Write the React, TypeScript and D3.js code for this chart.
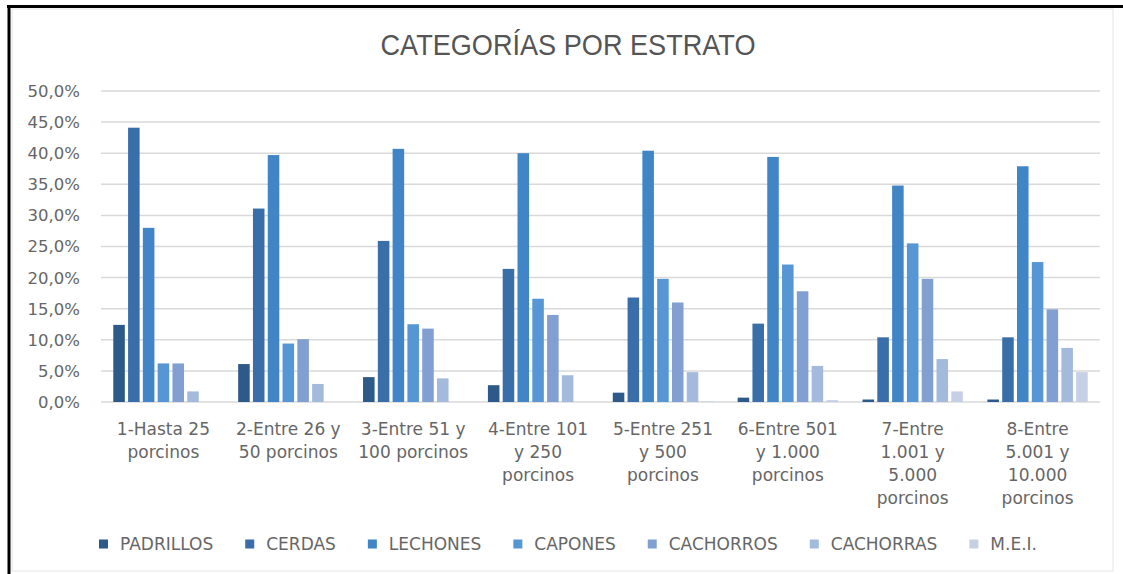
import { useMemo } from "react"
import * as d3 from "d3"

const CATEGORIES = [
  "1-Hasta 25\nporcinos",
  "2-Entre 26 y\n50 porcinos",
  "3-Entre 51 y\n100 porcinos",
  "4-Entre 101\ny 250\nporcinos",
  "5-Entre 251\ny 500\nporcinos",
  "6-Entre 501\ny 1.000\nporcinos",
  "7-Entre\n1.001 y\n5.000\nporcinos",
  "8-Entre\n5.001 y\n10.000\nporcinos",
]

const SERIES = ["PADRILLOS", "CERDAS", "LECHONES", "CAPONES", "CACHORROS", "CACHORRAS", "M.E.I."]

// percentage per estrato, one array per series
const PADRILLOS = [12.4, 6.1, 4.0, 2.7, 1.5, 0.7, 0.4, 0.4]
const CERDAS    = [44.1, 31.1, 25.9, 21.4, 16.8, 12.6, 10.4, 10.4]
const LECHONES  = [28.0, 39.7, 40.7, 40.0, 40.4, 39.4, 34.8, 37.9]
const CAPONES   = [6.2, 9.4, 12.5, 16.6, 19.8, 22.1, 25.5, 22.5]
const CACHORROS = [6.2, 10.1, 11.8, 14.0, 16.0, 17.8, 19.8, 14.9]
const CACHORRAS = [1.7, 2.9, 3.8, 4.3, 4.8, 5.8, 6.9, 8.7]
const MEI       = [0.0, 0.0, 0.0, 0.0, 0.1, 0.3, 1.7, 4.8]

const VALUES = [PADRILLOS, CERDAS, LECHONES, CAPONES, CACHORROS, CACHORRAS, MEI]

const Y_TICKS = [0, 5, 10, 15, 20, 25, 30, 35, 40, 45, 50]

const COLORS = ["#2d5a89", "#3a6ea9", "#4185c7", "#5696d4", "#819fd0", "#a3badc", "#c5d0e6"]

const W = 1123
const H = 574
const PLOT_L = 101
const PLOT_R = 1100
const PLOT_T = 91
const PLOT_B = 402
const CENTER_X = 568

const LABEL_FONT = "'DejaVu Sans', Verdana, sans-serif"
const TEXT_GRAY = "#666666"

const esFormat = d3.formatLocale({
  decimal: ",",
  thousands: ".",
  grouping: [3],
  currency: ["", "€"],
}).format(".1f")

function measure(text: string, font: string) {
  const ctx = document.createElement("canvas").getContext("2d")
  if (!ctx) return text.length * 9
  ctx.font = font
  return ctx.measureText(text).width
}

export default function App() {
  const x0 = d3.scaleBand().domain(CATEGORIES).range([PLOT_L, PLOT_R])
  const x1 = d3
    .scaleBand()
    .domain(SERIES)
    .range([0, x0.bandwidth()])
    .paddingInner(0.22)
    .paddingOuter(0.83)
  const y = d3.scaleLinear().domain([0, 50]).range([PLOT_B, PLOT_T])

  // legend layout: marker, text, gap
  const legend = useMemo(() => {
    const widths = SERIES.map((s) => measure(s, `17px ${LABEL_FONT}`))
    const items: { name: string; x: number; color: string }[] = []
    let cur = 0
    SERIES.forEach((s, i) => {
      items.push({ name: s, x: cur, color: COLORS[i] })
      cur += 21 + widths[i] + 32
    })
    const total = cur - 32
    const start = CENTER_X - total / 2
    return items.map((it) => ({ ...it, x: it.x + start }))
  }, [])

  return (
    <svg
      width={W}
      height={H}
      style={{ position: "absolute", left: 0, top: 0, background: "#ffffff" }}
    >
      {/* chart area frame */}
      <rect x={12} y={9} width={1101} height={562} fill="none" stroke="#e4e4e4" strokeWidth={1} />
      <line x1={7} x2={W} y1={6.5} y2={6.5} stroke="#000" strokeWidth={3} />
      <line x1={9} x2={9} y1={5} y2={H} stroke="#000" strokeWidth={3} />

      <text
        x={CENTER_X}
        y={55}
        textAnchor="middle"
        fontFamily="'Liberation Sans Narrow', 'Liberation Sans', Arial, sans-serif"
        fontSize={30}
        fill="#555555"
        textLength={375}
        lengthAdjust="spacingAndGlyphs"
      >
        CATEGORÍAS POR ESTRATO
      </text>

      {/* grid + y labels */}
      {Y_TICKS.map((t) => (
        <g key={t}>
          <line
            x1={PLOT_L}
            x2={PLOT_R}
            y1={y(t)}
            y2={y(t)}
            stroke="#d9d9d9"
            strokeWidth={1.5}
          />
          <text
            x={80}
            y={y(t)}
            dy="0.36em"
            textAnchor="end"
            fontFamily={LABEL_FONT}
            fontSize={16.5}
            fill={TEXT_GRAY}
          >
            {esFormat(t)}%
          </text>
        </g>
      ))}

      {/* bars */}
      {CATEGORIES.map((c, ci) => (
        <g key={c} transform={`translate(${x0(c)},0)`}>
          {SERIES.map((s, si) => {
            const v = VALUES[si][ci]
            return (
              <rect
                key={s}
                x={x1(s)}
                y={y(v)}
                width={x1.bandwidth()}
                height={y(0) - y(v)}
                fill={COLORS[si]}
              />
            )
          })}
        </g>
      ))}

      {/* category labels */}
      {CATEGORIES.map((c) => (
        <text
          key={c}
          x={(x0(c) ?? 0) + x0.bandwidth() / 2}
          y={434.5}
          textAnchor="middle"
          fontFamily={LABEL_FONT}
          fontSize={17}
          fill={TEXT_GRAY}
        >
          {c.split("\n").map((line, li) => (
            <tspan key={li} x={(x0(c) ?? 0) + x0.bandwidth() / 2} dy={li === 0 ? 0 : 23.3}>
              {line}
            </tspan>
          ))}
        </text>
      ))}

      {/* legend */}
      {legend.map((it) => (
        <g key={it.name}>
          <rect x={it.x} y={539.5} width={9} height={9} fill={it.color} />
          <text
            x={it.x + 21}
            y={550}
            fontFamily={LABEL_FONT}
            fontSize={17}
            fill={TEXT_GRAY}
          >
            {it.name}
          </text>
        </g>
      ))}
    </svg>
  )
}
